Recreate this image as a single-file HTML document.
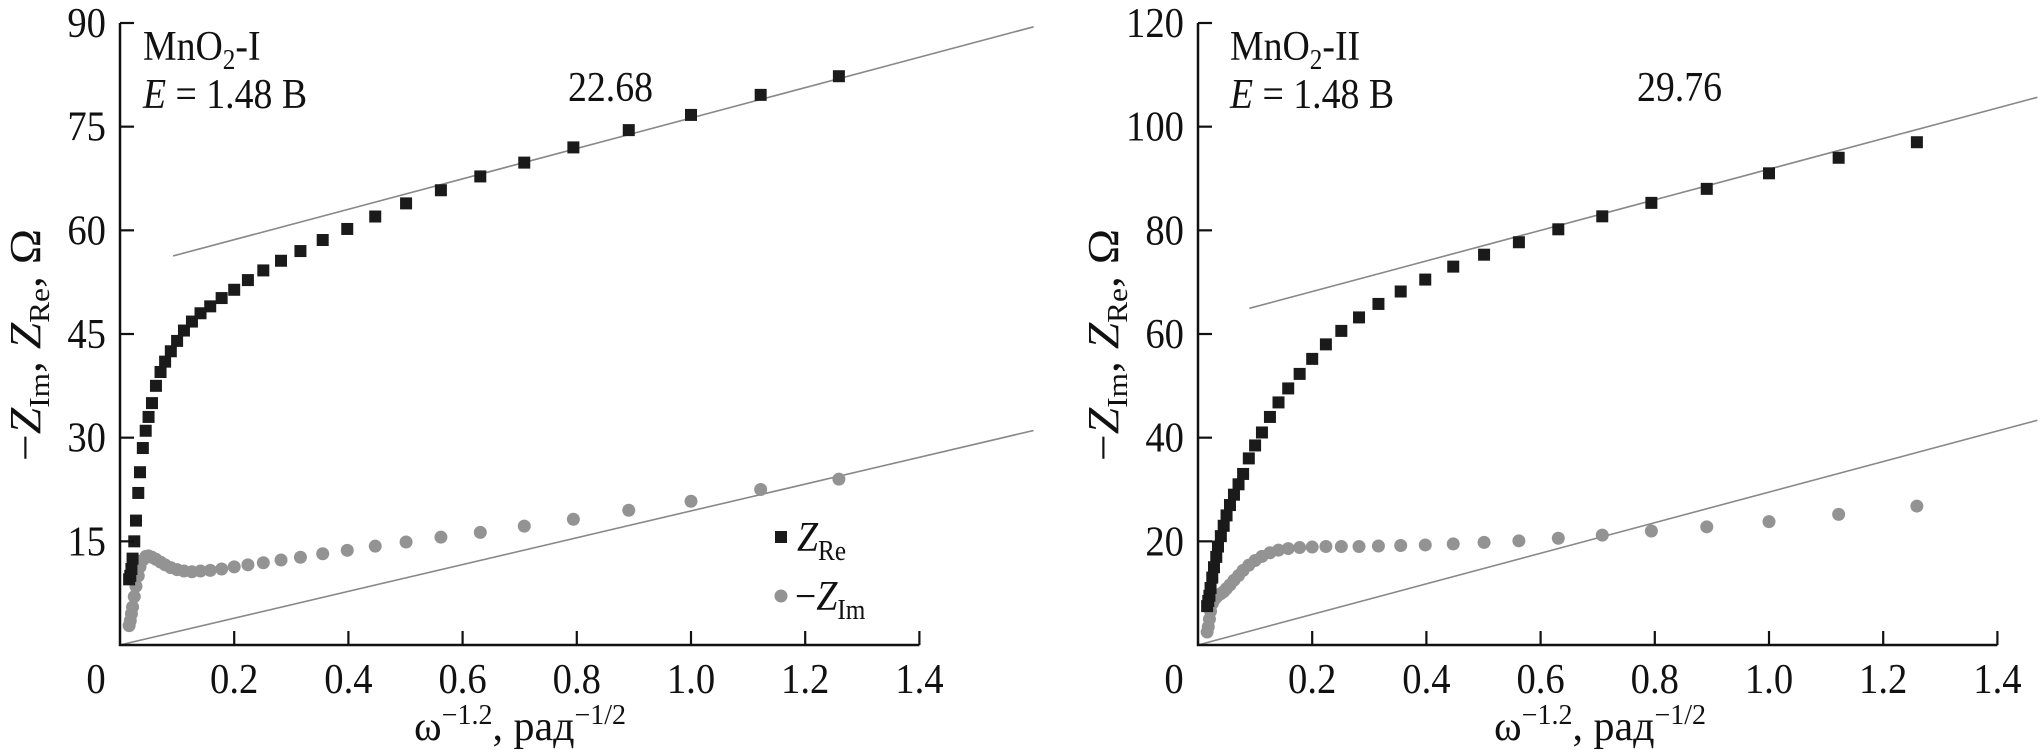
<!DOCTYPE html>
<html><head><meta charset="utf-8">
<style>
html,body{margin:0;padding:0;background:#fff;}
svg{display:block;font-family:"Liberation Serif",serif;}
</style></head>
<body>
<svg id="chart" width="2041" height="756" viewBox="0 0 2041 756" xmlns="http://www.w3.org/2000/svg"></svg>
<script>
// ---- data ----
const xw = [1.259,1.122,1.0,0.891,0.794,0.708,0.631,0.562,0.501,0.447,0.398,0.355,0.316,0.282,0.251,0.224,0.2,0.178,0.158,0.141,0.126,0.112,0.1,0.089,0.079,0.071,0.063,0.056,0.05,0.045,0.04,0.035,0.032,0.028,0.025,0.022,0.02,0.018,0.016];
const zre1 = [82.3,79.6,76.7,74.5,72,69.8,67.8,65.8,63.9,62,60.2,58.6,57,55.6,54.2,52.8,51.4,50.2,49,48,46.8,45.5,44,42.5,41,39.5,37.5,35,33,31,28.5,25,22,18,15,12.5,11,10,9.5];
const zim1 = [24,22.5,20.8,19.5,18.2,17.2,16.3,15.6,14.9,14.3,13.7,13.2,12.7,12.3,11.9,11.6,11.3,11.0,10.8,10.7,10.6,10.7,10.9,11.2,11.6,12.0,12.4,12.7,12.9,12.8,12.3,11.3,10,8.5,7,5.5,4.5,3.5,2.8];
const zre2 = [97,94,91,88,85.3,82.7,80.2,77.7,75.3,73,70.5,68.2,65.8,63.2,60.6,58,55.2,52.3,49.5,46.8,44,41,38.5,36,33,31,29,27,25,23,21,19,17,15,13,11,9.5,8.5,7.5];
const zim2 = [26.8,25.2,23.8,22.8,22,21.2,20.6,20.1,19.8,19.5,19.3,19.2,19.1,19.0,19,19,18.9,18.8,18.6,18.3,17.8,17.1,16.3,15.4,14.4,13.4,12.5,11.6,10.9,10.3,9.9,9.6,9.2,8.7,8,6.5,5,3.5,2.5];
const xTicks = [0,0.2,0.4,0.6,0.8,1.0,1.2,1.4];
const xTickLabels = ["0","0.2","0.4","0.6","0.8","1.0","1.2","1.4"];
const yTicks1 = [15,30,45,60,75,90];
const yTicks2 = [20,40,60,80,100,120];
const fit1 = [0.093,1.60]; const fitSlope1 = 22.0; const fitInt1 = 54.25;
const low1 = [0,1.60]; const lowSlope1 = 19.4;
const fit2 = [0.09,1.47]; const fitSlope2 = 29.5; const fitInt2 = 62.3;
const low2 = [0,1.47]; const lowSlope2 = 29.5;

const NS="http://www.w3.org/2000/svg";
const svg=document.getElementById('chart');
function mk(tag,attrs,parent){const e=document.createElementNS(NS,tag);for(const k in attrs)e.setAttribute(k,attrs[k]);(parent||svg).appendChild(e);return e;}

function panel(cfg){
  const g=mk('g',{});
  
  
  const X=v=>cfg.x0+v*571.0;
  const Y=v=>645-v*(622/cfg.ymax);
  let l=mk('line',{x1:X(cfg.fit[0]),y1:Y(cfg.fitInt+cfg.fitSlope*cfg.fit[0]),x2:X(cfg.fit[1]),y2:Y(cfg.fitInt+cfg.fitSlope*cfg.fit[1]),stroke:'#888','stroke-width':1.6},g);
  
  
  l=mk('line',{x1:X(cfg.low[0]),y1:Y(cfg.lowSlope*cfg.low[0]),x2:X(cfg.low[1]),y2:Y(cfg.lowSlope*cfg.low[1]),stroke:'#888','stroke-width':1.6},g);
  
  
  cfg.zim.forEach((v,i)=>{
    const c=mk('circle',{cx:X(xw[i]),cy:Y(v),r:6.5,fill:'#939393'},g);
    
    
  });
  cfg.zre.forEach((v,i)=>{
    const r=mk('rect',{x:X(xw[i])-6,y:Y(v)-6,width:12,height:12,fill:'#1a1a1a'},g);
    
    
  });
  const ax=mk('path',{d:`M${X(0)},${Y(cfg.ymax)} L${X(0)},${Y(0)} L${X(1.4)},${Y(0)}`,fill:'none',stroke:'#111','stroke-width':2.5},g);
  
  
  xTicks.forEach((t,i)=>{
    if(t>0) mk('line',{x1:X(t),y1:Y(0),x2:X(t),y2:Y(0)-14,stroke:'#111','stroke-width':2.2},g);
    const tx=mk('text',{transform:`translate(${X(t)+(t===0?-24:0)},693) scale(0.92,1)`,'font-size':42,'text-anchor':'middle',fill:'#111'},g);
    tx.textContent=xTickLabels[i];
    
    
  });
  cfg.yTicks.forEach(t=>{
    mk('line',{x1:X(0),y1:Y(t),x2:X(0)+14,y2:Y(t),stroke:'#111','stroke-width':2.2},g);
    const tx=mk('text',{transform:`translate(${X(0)-14},${Y(t)+14}) scale(0.92,1)`,'font-size':42,'text-anchor':'end',fill:'#111'},g);
    tx.textContent=String(t);
    
    
  });
  return {g,X,Y};
}

const p1=panel({name:'panel-mno2-i',x0:120,ymax:90,zre:zre1,zim:zim1,yTicks:yTicks1,fit:fit1,fitSlope:fitSlope1,fitInt:fitInt1,low:low1,lowSlope:lowSlope1});
const p2=panel({name:'panel-mno2-ii',x0:1198,ymax:120,zre:zre2,zim:zim2,yTicks:yTicks2,fit:fit2,fitSlope:fitSlope2,fitInt:fitInt2,low:low2,lowSlope:lowSlope2});
</script>
<svg style="position:absolute;left:0;top:0" width="2041" height="756">
  <g font-family="Liberation Serif, serif" font-size="42" fill="#111">
    <text transform="translate(143,60) scale(0.9,1)">MnO<tspan font-size="28" dy="9">2</tspan><tspan dy="-9">-I</tspan></text>
    <text transform="translate(143,108) scale(0.9,1)"><tspan font-style="italic">E</tspan> = 1.48 B</text>
    <text transform="translate(568,101) scale(0.9,1)">22.68</text>
    <text transform="translate(1230,60) scale(0.9,1)">MnO<tspan font-size="28" dy="9">2</tspan><tspan dy="-9">-II</tspan></text>
    <text transform="translate(1230,108) scale(0.9,1)"><tspan font-style="italic">E</tspan> = 1.48 B</text>
    <text transform="translate(1637,101) scale(0.9,1)">29.76</text>
    <text transform="translate(414,740) scale(1,1)">ω<tspan font-size="28" dy="-16">−1.2</tspan><tspan dy="16">, рад</tspan><tspan font-size="28" dy="-16">−1/2</tspan></text>
    <text transform="translate(1494,740) scale(1,1)">ω<tspan font-size="28" dy="-16">−1.2</tspan><tspan dy="16">, рад</tspan><tspan font-size="28" dy="-16">−1/2</tspan></text>
    <text transform="translate(40,345) rotate(-90) scale(1.08,1)" font-size="44" text-anchor="middle">−<tspan font-style="italic">Z</tspan><tspan font-size="29" dy="9">Im</tspan><tspan dy="-9">, </tspan><tspan font-style="italic">Z</tspan><tspan font-size="29" dy="9">Re</tspan><tspan dy="-9">, Ω</tspan></text>
    <text transform="translate(1118,345) rotate(-90) scale(1.08,1)" font-size="44" text-anchor="middle">−<tspan font-style="italic">Z</tspan><tspan font-size="29" dy="9">Im</tspan><tspan dy="-9">, </tspan><tspan font-style="italic">Z</tspan><tspan font-size="29" dy="9">Re</tspan><tspan dy="-9">, Ω</tspan></text>
    <g>
      <rect x="775" y="531" width="12" height="12" fill="#1a1a1a"/>
      <text transform="translate(797,551) scale(0.9,1)"><tspan font-style="italic">Z</tspan><tspan font-size="28" dy="9">Re</tspan></text>
      <circle cx="781" cy="596" r="6.5" fill="#939393"/>
      <text transform="translate(795,610) scale(0.9,1)">−<tspan font-style="italic">Z</tspan><tspan font-size="28" dy="9">Im</tspan></text>
    </g>
  </g>
</svg>
</body></html>
